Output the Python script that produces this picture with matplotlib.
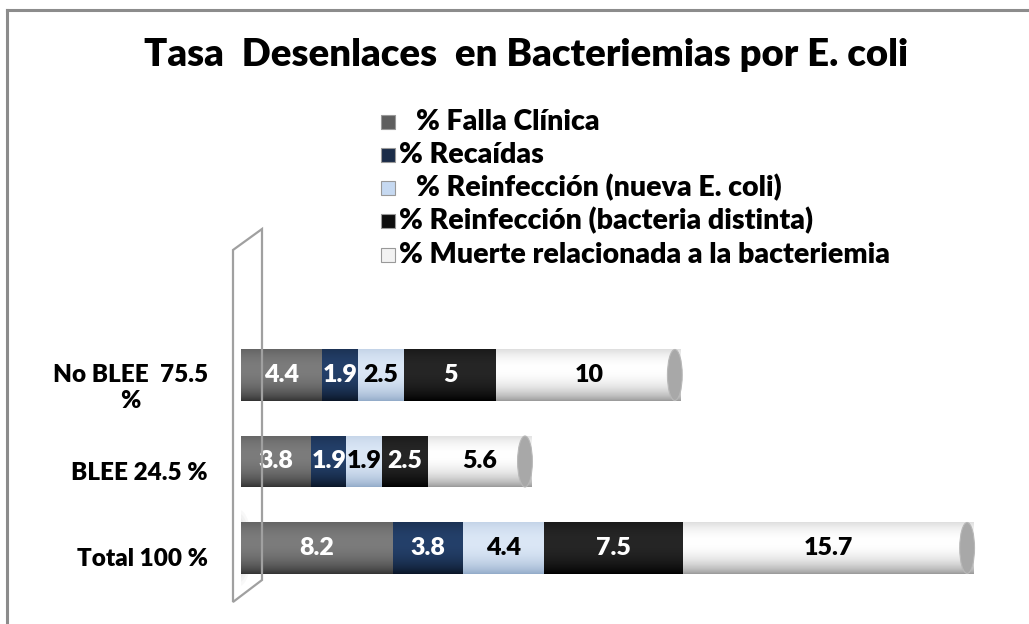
import matplotlib.pyplot as plt
import matplotlib.colors as mcolors
import matplotlib.transforms as mtransforms
from matplotlib.patches import Ellipse, Polygon, Rectangle
from matplotlib.lines import Line2D
import numpy as np

plt.rcParams['font.family'] = ['Lato', 'DejaVu Sans']
plt.rcParams['font.weight'] = 'heavy'

# datos
grupos = ['Total 100 %', 'BLEE 24.5 %', 'No BLEE  75.5\n%']
series = ['% Falla Clínica', '% Recaídas', '% Reinfección (nueva E. coli)',
          '% Reinfección (bacteria distinta)', '% Muerte relacionada a la bacteriemia']
falla = [8.2, 3.8, 4.4]
recaidas = [3.8, 1.9, 1.9]
reinf_nueva = [4.4, 1.9, 2.5]
reinf_distinta = [7.5, 2.5, 5]
muerte = [15.7, 5.6, 10]
valores = [falla, recaidas, reinf_nueva, reinf_distinta, muerte]

# colores (claro, oscuro) para efecto cilindro
tonos = [('#7c7c7c', '#333333'), ('#24406a', '#0a1526'), ('#dbe7f6', '#93abc9'),
         ('#262626', '#000000'), ('#ffffff', '#9a9a9a')]
base = ['#5e5e5e', '#1b2c48', '#c6d9f1', '#0d0d0d', '#f2f2f2']
txt_col = ['white', 'white', 'black', 'white', 'black']

W, H = 1029, 624
fig = plt.figure(figsize=(W / 100, H / 100), dpi=100)

def fx(px):
    return px / W

def fy(py):
    return 1 - py / H

# marco
fig.add_artist(Line2D([fx(7), fx(7)], [fy(10), 0], color='#8c8c8c', lw=2.2))
fig.add_artist(Line2D([fx(7), 1], [fy(10), fy(10)], color='#8c8c8c', lw=2.2))

# pared lateral
pared = Polygon([(fx(233), fy(250)), (fx(262), fy(229)), (fx(262), fy(580)), (fx(233), fy(602))],
                closed=True, fill=False, edgecolor='#a0a0a0', lw=1.6, transform=fig.transFigure)
fig.add_artist(pared)

paso = 86.5
ax = fig.add_axes([fx(241), fy(548 + 0.5 * paso), fx(1000) - fx(241), 3 * paso / H])
xmax = (1000 - 241) / 18.5
ax.patch.set_alpha(0)
for s in ax.spines.values():
    s.set_visible(False)
ax.set_xticks([])
y = np.arange(len(grupos))
ax.set_yticks(y)
ax.set_yticklabels(grupos, fontsize=17.5, fontweight='heavy', multialignment='center')
ax.tick_params(axis='y', length=0, pad=24)
bajar = mtransforms.ScaledTranslation(0, -9 / 100, fig.dpi_scale_trans)
for lb in ax.get_yticklabels():
    lb.set_transform(lb.get_transform() + bajar)

alto = 0.59
t = np.linspace(0, 1, 64)
perfil = np.clip(1 - ((t - 0.62) / 0.62) ** 2, 0, 1) ** 0.8

# sombra junto a la pared (Total)
for k in range(4):
    ax.add_patch(Ellipse((-0.1, 0), 1.4 - 0.25 * k, alto * (1.5 - 0.15 * k), color='#808080',
                         alpha=0.05, lw=0, zorder=1))

izq = np.zeros(len(grupos))
for i, vals in enumerate(valores):
    vals = np.array(vals)
    claro = np.array(mcolors.to_rgb(tonos[i][0]))
    oscuro = np.array(mcolors.to_rgb(tonos[i][1]))
    img = oscuro[None, :] + (claro - oscuro)[None, :] * perfil[:, None]
    img = img[:, None, :]
    barras = ax.barh(y, vals, left=izq, height=alto, color=base[i], lw=0, zorder=2)
    for j, b in enumerate(barras):
        x0, y0 = b.get_x(), b.get_y()
        im = ax.imshow(img, extent=[x0, x0 + b.get_width(), y0, y0 + alto], origin='lower',
                       aspect='auto', zorder=3, interpolation='bilinear')
        im.set_clip_path(b)
        if i == 0:
            ax.add_patch(Ellipse((x0, y[j]), 0.9, alto, color=tonos[0][1], lw=0, zorder=2))
        ax.text(x0 + b.get_width() / 2, y[j], f'{vals[j]:g}', ha='center', va='center',
                color=txt_col[i], fontsize=18, fontweight='heavy', zorder=5)
    izq = izq + vals

# tapa del cilindro
for j in range(len(grupos)):
    ax.add_patch(Ellipse((izq[j] - 0.35, y[j]), 0.8, alto, facecolor='#a8a8a8',
                         edgecolor='#b8b8b8', lw=0.8, zorder=4))
ax.set_xlim(0, xmax)
ax.set_ylim(-0.5, 2.5)

# título
fig.text(fx(526), fy(55), 'Tasa  Desenlaces  en Bacteriemias por E. coli', ha='center',
         va='center', fontsize=27.5, fontweight='heavy')

# leyenda
filas = [122, 155, 188, 221, 255]
for i, nombre in enumerate(series):
    yy = fy(filas[i])
    fig.add_artist(Rectangle((fx(381), yy - 7 / H), 14 / W, 14 / H, facecolor=base[i],
                             edgecolor='#999999', lw=0.8, transform=fig.transFigure))
    off = 17 if i in (0, 2) else 0
    fig.text(fx(399 + off), yy, nombre, ha='left', va='center', fontsize=20.5, fontweight='heavy')

fig.savefig('out.png', dpi=100)
